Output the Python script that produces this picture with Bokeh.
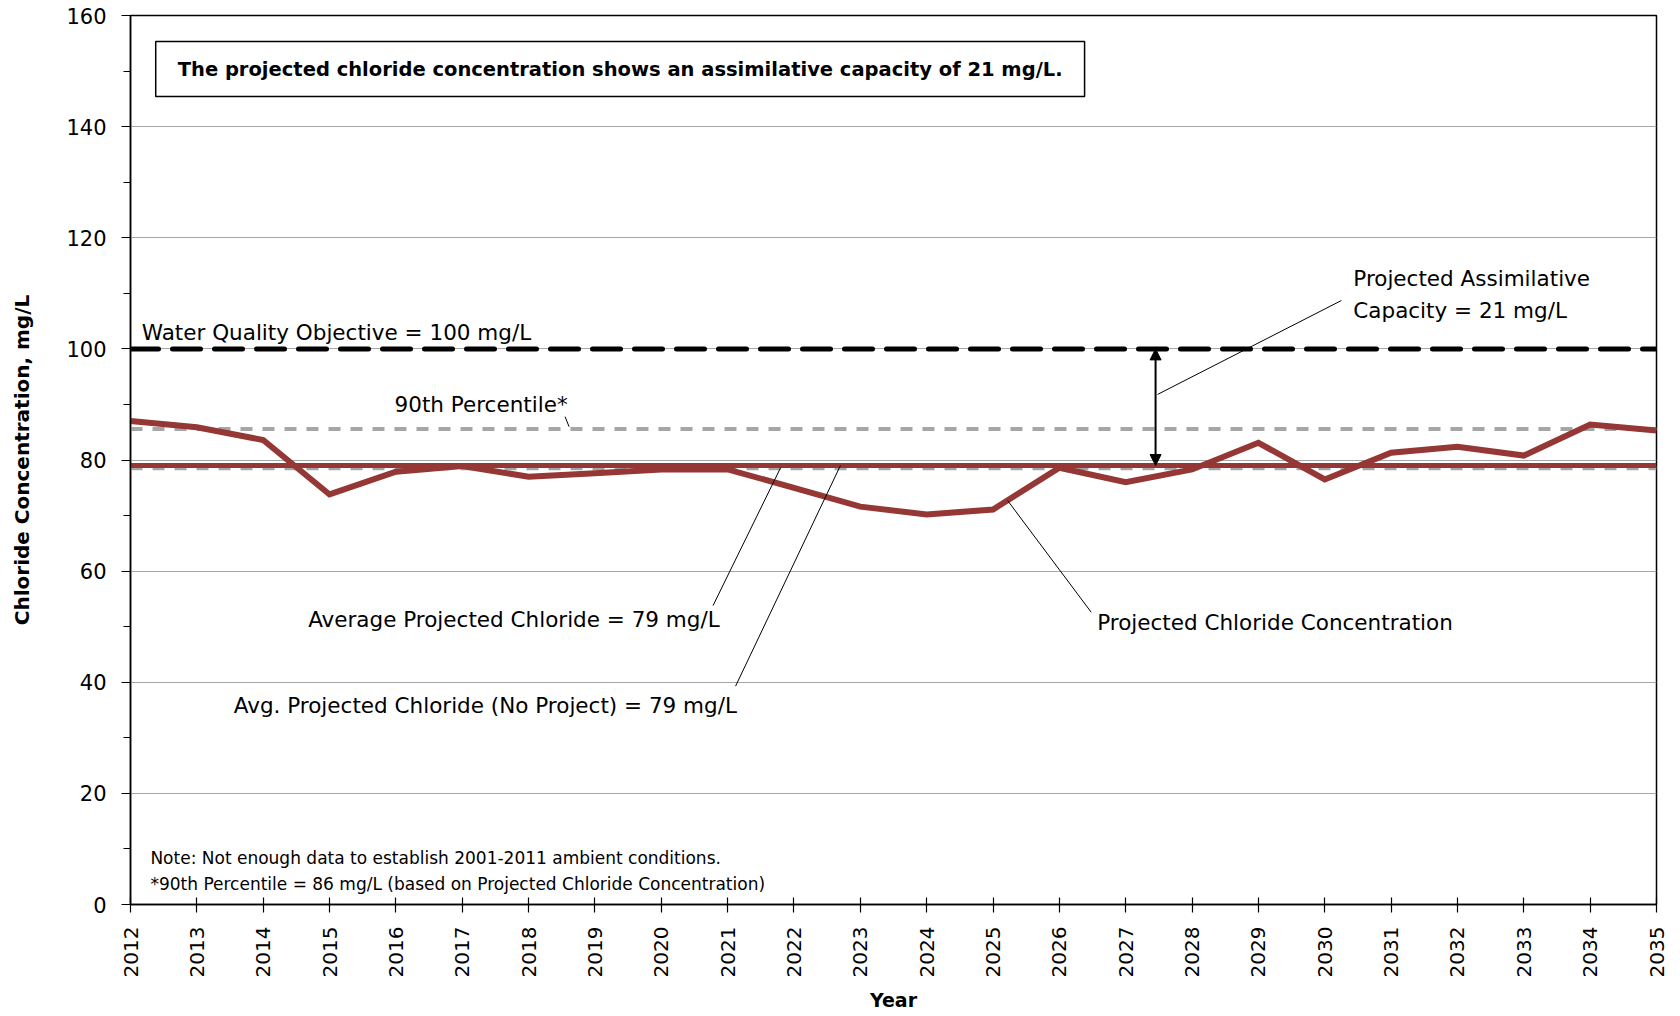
import numpy as np
from bokeh.plotting import figure
from bokeh.models import (FixedTicker, Label, BoxAnnotation, Arrow, NormalHead, Range1d)
from bokeh.embed import file_html
from bokeh.resources import INLINE

# ---------------- data ----------------
years = list(range(2012, 2036))
year_labels = [str(y) for y in years]
projected = [87.0, 85.9, 83.6, 73.8, 77.9, 78.9, 77.0, 77.6, 78.3, 78.3, 75.0, 71.6,
             70.2, 71.1, 78.6, 76.0, 78.3, 83.1, 76.5, 81.3, 82.4, 80.8, 86.4, 85.3]
avg_projected = 79.0
avg_no_project = 78.5
pct90 = 85.6
wqo = 100.0
y_ticks = [0, 20, 40, 60, 80, 100, 120, 140, 160]
y_minor = [10, 30, 50, 70, 90, 110, 130, 150]

# leader lines (data coords): x0, y0, x1, y1
lead_x0 = [2030.25, 2018.55, 2020.78, 2021.12, 2026.48]
lead_y0 = [108.7, 87.8, 53.8, 39.3, 52.6]
lead_x1 = [2027.48, 2018.61, 2021.80, 2022.70, 2025.22]
lead_y1 = [91.8, 86.0, 78.65, 79.0, 72.7]
arrow_x = 2027.45

FONT = "DejaVu Sans"
TICKFONT = "DejaVu Sans"
RED = "#953735"

p = figure(frame_width=1526, frame_height=889, min_border_left=130, min_border_right=16,
           min_border_top=15, min_border_bottom=96,
           x_range=Range1d(2012, 2035), y_range=Range1d(0, 160),
           output_backend="svg", toolbar_location=None)
p.background_fill_color = "white"
p.border_fill_color = "white"
p.outline_line_color = "black"
p.outline_line_width = 1.5

# grid
p.xgrid.visible = False
p.ygrid.ticker = FixedTicker(ticks=y_ticks)
p.ygrid.grid_line_color = "#a6a6a6"
p.ygrid.grid_line_width = 1.2

# axes
p.xaxis.ticker = FixedTicker(ticks=years)
p.xaxis.major_label_orientation = np.pi / 2
p.xaxis.major_label_text_font = TICKFONT
p.xaxis.major_label_text_font_size = "20px"
p.xaxis.major_label_text_color = "black"
p.xaxis.major_tick_in = 7
p.xaxis.major_tick_out = 8
p.xaxis.minor_tick_line_color = None
p.xaxis.major_label_standoff = 14
p.xaxis.axis_label = "Year"
p.xaxis.axis_label_text_font = FONT
p.xaxis.axis_label_text_font_style = "bold"
p.xaxis.axis_label_text_font_size = "19px"
p.xaxis.axis_label_text_color = "black"
p.xaxis.axis_label_standoff = 9

p.yaxis.ticker = FixedTicker(ticks=y_ticks, minor_ticks=y_minor)
p.yaxis.major_label_text_font = TICKFONT
p.yaxis.major_label_text_font_size = "21px"
p.yaxis.major_label_text_color = "black"
p.yaxis.major_tick_in = 0
p.yaxis.major_tick_out = 9
p.yaxis.minor_tick_in = 0
p.yaxis.minor_tick_out = 7
p.yaxis.major_label_standoff = 15
p.yaxis.axis_label = "Chloride Concentration, mg/L"
p.yaxis.axis_label_text_font = FONT
p.yaxis.axis_label_text_font_style = "bold"
p.yaxis.axis_label_text_font_size = "20px"
p.yaxis.axis_label_text_color = "black"
p.yaxis.axis_label_standoff = 29

for ax in (p.xaxis, p.yaxis):
    ax.axis_line_color = "black"
    ax.axis_line_width = 1.5
    ax.major_tick_line_color = "black"
    ax.major_tick_line_width = 1.2
p.yaxis.minor_tick_line_color = "black"

# horizontal reference lines
x_span = [years[0], years[-1]]
p.line(x_span, [wqo, wqo], line_color="black", line_width=5, line_dash="28 14", line_cap="round")
p.line(x_span, [pct90, pct90], line_color="#a6a6a6", line_width=4, line_dash="12 10")
p.line(x_span, [avg_no_project, avg_no_project], line_color="#a6a6a6", line_width=4, line_dash="12 10")
p.line(x_span, [avg_projected, avg_projected], line_color=RED, line_width=5)

# projected series
p.line(years, projected, line_color=RED, line_width=6, line_join="miter")

# leader lines
p.segment(x0=lead_x0, y0=lead_y0, x1=lead_x1, y1=lead_y1, line_color="black", line_width=1)

# double arrow
p.add_layout(Arrow(x_start=arrow_x, y_start=avg_projected, x_end=arrow_x, y_end=wqo,
                   line_color="black", line_width=2,
                   start=NormalHead(size=11, fill_color="black", line_color="black"),
                   end=NormalHead(size=11, fill_color="black", line_color="black")))

# boxed statement
p.add_layout(BoxAnnotation(left=2012.38, right=2026.38, bottom=145.4, top=155.3,
                           fill_color="white", fill_alpha=1.0,
                           line_color="black", line_width=1.5, line_alpha=1.0))

def lab(x, y, text, align="left", baseline="middle", size="21.5px", style="normal"):
    p.add_layout(Label(x=x, y=y, text=text, text_align=align, text_baseline=baseline,
                       text_font=FONT, text_font_size=size,
                       text_font_style=style, text_color="black"))

lab(2019.38, 150.35,
    "The projected chloride concentration shows an assimilative capacity of 21 mg/L.",
    align="center", size="19.5px", style="bold")
lab(2012.17, 103.0, "Water Quality Objective = 100 mg/L")
lab(2015.98, 89.9, "90th Percentile*")
lab(2030.43, 112.6, "Projected Assimilative")
lab(2030.43, 106.9, "Capacity = 21 mg/L")
lab(2020.88, 51.3, "Average Projected Chloride = 79 mg/L", align="right")
lab(2021.14, 35.8, "Avg. Projected Chloride (No Project) = 79 mg/L", align="right")
lab(2026.57, 50.8, "Projected Chloride Concentration")
lab(2012.3, 8.3, "Note: Not enough data to establish 2001-2011 ambient conditions.", size="17px")
lab(2012.3, 3.7, "*90th Percentile = 86 mg/L (based on Projected Chloride Concentration)", size="17px")

open("out.html", "w").write(file_html(p, INLINE))
